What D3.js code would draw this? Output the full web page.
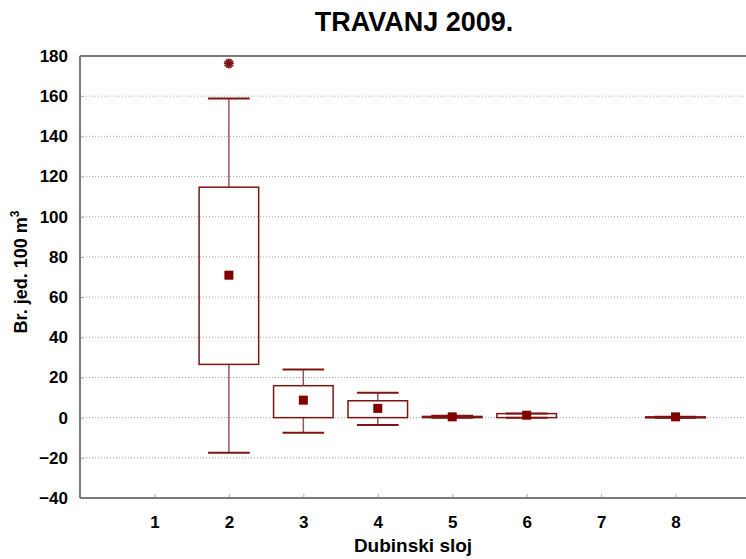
<!DOCTYPE html>
<html><head><meta charset="utf-8">
<script src="https://cdn.jsdelivr.net/npm/d3@7"></script>
<style>body{margin:0;background:#fff}svg{display:block}text{font-family:"Liberation Sans",Arial,sans-serif;font-weight:bold;fill:#000}</style>
</head><body>
<svg id="chart" width="746" height="559"></svg>
<script>
const categories = [1, 2, 3, 4, 5, 6, 7, 8];
const q1Values   = [null, 26.5, 0, 0, 0, 0, null, 0];
const q3Values   = [null, 114.7, 15.9, 8.4, 0.6, 2.0, null, 0.4];
const minValues  = [null, -17.5, -7.5, -3.7, 0, 0, null, 0];
const maxValues  = [null, 158.9, 24, 12.4, 1.0, 2.0, null, 0.4];
const meanValues = [null, 70.9, 8.7, 4.6, 0.4, 1.2, null, 0.4];
const outliers   = [{cat: 2, value: 176.3}];
const yTicks = [-40, -20, 0, 20, 40, 60, 80, 100, 120, 140, 160, 180];

const svg = d3.select("#chart");
const pL = 80, pR = 750, pT = 56, pB = 498;
const x = d3.scaleLinear().domain([0, 9]).range([pL, pR]);
const y = d3.scaleLinear().domain([-40, 180]).range([pB, pT]);
const dark = "#7d1515";
const fontFam = '"Liberation Sans",Arial,sans-serif';

// gridlines
svg.append("g").selectAll("line").data(yTicks.filter(t => t > -40 && t < 180)).join("line")
  .attr("x1", pL).attr("x2", pR).attr("y1", d => y(d)).attr("y2", d => y(d))
  .attr("stroke", "#a8a8a8").attr("stroke-width", 1).attr("stroke-dasharray", "1,2");

// axes
const yAxis = d3.axisLeft(y).tickValues(yTicks).tickSize(-4).tickPadding(12);
const gy = svg.append("g").attr("transform", `translate(${pL},0)`).call(yAxis);
gy.selectAll("text").attr("font-size", 17).style("font-family", fontFam).style("font-weight", "bold");
gy.selectAll(".tick line").attr("stroke", "#aaa");
gy.select(".domain").remove();

const xAxis = d3.axisBottom(x).tickValues(categories).tickSize(-4).tickPadding(18);
const gx = svg.append("g").attr("transform", `translate(0,${pB})`).call(xAxis);
gx.selectAll("text").attr("font-size", 17).style("font-family", fontFam).style("font-weight", "bold");
gx.selectAll(".tick line").attr("stroke", "#aaa");
gx.select(".domain").remove();

// frame
const frame = svg.append("g").attr("stroke", "#7a7a7a").attr("stroke-width", 2).attr("fill", "none");
frame.append("line").attr("x1", pL).attr("x2", 746).attr("y1", pT).attr("y2", pT);
frame.append("line").attr("x1", pL).attr("x2", 746).attr("y1", pB).attr("y2", pB);
frame.append("line").attr("x1", pL).attr("x2", pL).attr("y1", pT).attr("y2", pB);

// boxes
const data = categories.map((c, i) => ({c, q1: q1Values[i], q3: q3Values[i], mn: minValues[i], mx: maxValues[i], mean: meanValues[i]})).filter(d => d.q1 !== null);
const boxW = 0.8, capW = 0.56;
const g = svg.append("g");
data.forEach(d => {
  const cx = x(d.c);
  g.append("line").attr("x1", cx).attr("x2", cx).attr("y1", y(d.mx)).attr("y2", y(d.q3)).attr("stroke", "#9a5555").attr("stroke-width", 1.5);
  g.append("line").attr("x1", cx).attr("x2", cx).attr("y1", y(d.q1)).attr("y2", y(d.mn)).attr("stroke", "#9a5555").attr("stroke-width", 1.5);
  g.append("rect").attr("x", x(d.c - boxW/2)).attr("width", x(boxW) - x(0))
    .attr("y", y(d.q3)).attr("height", Math.max(1, y(d.q1) - y(d.q3)))
    .attr("fill", "none").attr("stroke", dark).attr("stroke-width", 1.5);
  [d.mx, d.mn].forEach(v => {
    g.append("line").attr("x1", x(d.c - capW/2)).attr("x2", x(d.c + capW/2)).attr("y1", y(v)).attr("y2", y(v))
      .attr("stroke", dark).attr("stroke-width", 2);
  });
  g.append("rect").attr("x", cx - 4.5).attr("y", y(d.mean) - 4.5).attr("width", 9).attr("height", 9).attr("fill", "#800000");
});
// outliers
const star = d3.symbol().type(d3.symbolAsterisk).size(70);
outliers.forEach(o => {
  g.append("path").attr("d", star()).attr("transform", `translate(${x(o.cat)},${y(o.value)})`)
    .attr("fill", "none").attr("stroke", dark).attr("stroke-width", 1.8);
  g.append("path").attr("d", star()).attr("transform", `translate(${x(o.cat)},${y(o.value)}) rotate(90)`)
    .attr("fill", "none").attr("stroke", dark).attr("stroke-width", 1.8);
});

// titles
svg.append("text").attr("x", 414).attr("y", 31).attr("text-anchor", "middle").attr("font-size", 27).text("TRAVANJ 2009.");
svg.append("text").attr("x", 413).attr("y", 552).attr("text-anchor", "middle").attr("font-size", 19).text("Dubinski sloj");
const yl = svg.append("text").attr("transform", "translate(27,272) rotate(-90)").attr("text-anchor", "middle").attr("font-size", 18);
yl.append("tspan").text("Br. jed. 100 m");
yl.append("tspan").attr("dy", -8).attr("font-size", 12).text("3");
</script>
</body></html>
